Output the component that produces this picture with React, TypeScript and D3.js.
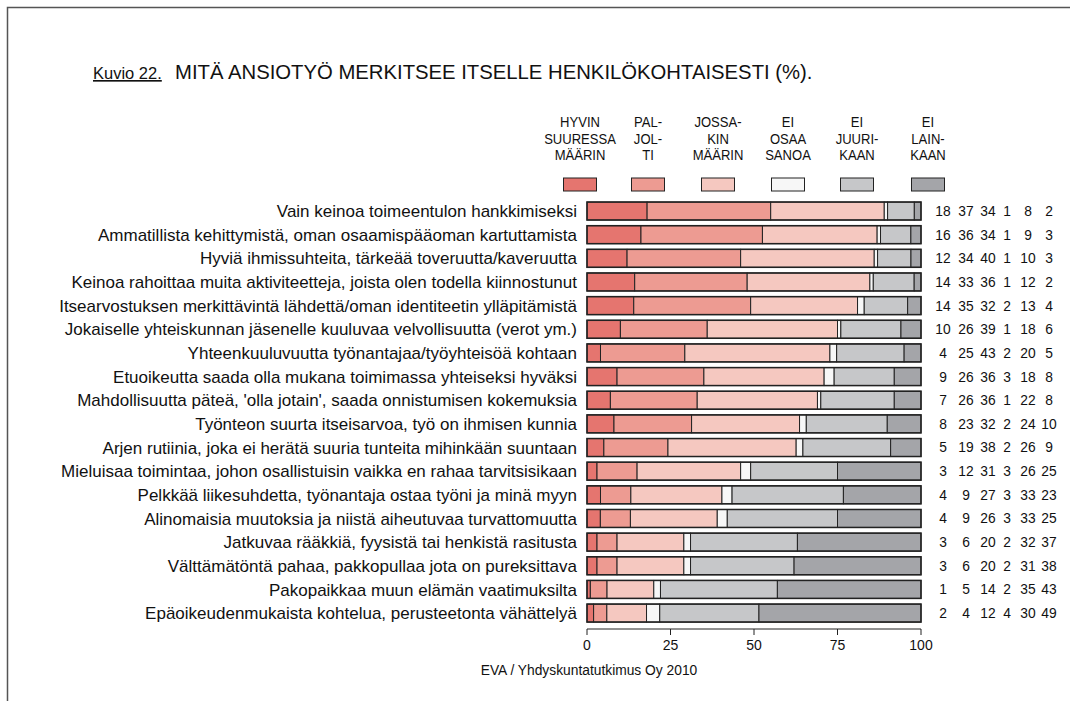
import React from "react";
import * as d3 from "d3";

const categories = [
  "Vain keinoa toimeentulon hankkimiseksi",
  "Ammatillista kehittymistä, oman osaamispääoman kartuttamista",
  "Hyviä ihmissuhteita, tärkeää toveruutta/kaveruutta",
  "Keinoa rahoittaa muita aktiviteetteja, joista olen todella kiinnostunut",
  "Itsearvostuksen merkittävintä lähdettä/oman identiteetin ylläpitämistä",
  "Jokaiselle yhteiskunnan jäsenelle kuuluvaa velvollisuutta (verot ym.)",
  "Yhteenkuuluvuutta työnantajaa/työyhteisöä kohtaan",
  "Etuoikeutta saada olla mukana toimimassa yhteiseksi hyväksi",
  "Mahdollisuutta päteä, 'olla jotain', saada onnistumisen kokemuksia",
  "Työnteon suurta itseisarvoa, työ on ihmisen kunnia",
  "Arjen rutiinia, joka ei herätä suuria tunteita mihinkään suuntaan",
  "Mieluisaa toimintaa, johon osallistuisin vaikka en rahaa tarvitsisikaan",
  "Pelkkää liikesuhdetta, työnantaja ostaa työni ja minä myyn",
  "Alinomaisia muutoksia ja niistä aiheutuvaa turvattomuutta",
  "Jatkuvaa rääkkiä, fyysistä tai henkistä rasitusta",
  "Välttämätöntä pahaa, pakkopullaa jota on pureksittava",
  "Pakopaikkaa muun elämän vaatimuksilta",
  "Epäoikeudenmukaista kohtelua, perusteetonta vähättelyä",
];

const hyvinSuuressa = [18, 16, 12, 14, 14, 10, 4, 9, 7, 8, 5, 3, 4, 4, 3, 3, 1, 2];
const paljolti = [37, 36, 34, 33, 35, 26, 25, 26, 26, 23, 19, 12, 9, 9, 6, 6, 5, 4];
const jossakin = [34, 34, 40, 36, 32, 39, 43, 36, 36, 32, 38, 31, 27, 26, 20, 20, 14, 12];
const eiOsaa = [1, 1, 1, 1, 2, 1, 2, 3, 1, 2, 2, 3, 3, 3, 2, 2, 2, 4];
const eiJuuri = [8, 9, 10, 12, 13, 18, 20, 18, 22, 24, 26, 26, 33, 33, 32, 31, 35, 30];
const eiLainkaan = [2, 3, 3, 2, 4, 6, 5, 8, 8, 10, 9, 25, 23, 25, 37, 38, 43, 49];

const series = [hyvinSuuressa, paljolti, jossakin, eiOsaa, eiJuuri, eiLainkaan];
const legendLabels = [
  ["HYVIN", "SUURESSA", "MÄÄRIN"],
  ["PAL-", "JOL-", "TI"],
  ["JOSSA-", "KIN", "MÄÄRIN"],
  ["EI", "OSAA", "SANOA"],
  ["EI", "JUURI-", "KAAN"],
  ["EI", "LAIN-", "KAAN"],
];
const colors = ["#e5756f", "#ed9b92", "#f5c8c0", "#f7f7f7", "#c6c7c9", "#a4a5a9"];
const ticks = [0, 25, 50, 75, 100];

const FONT = "'Liberation Sans', Arial, Helvetica, sans-serif";

export default function App() {
  const x = d3.scaleLinear().domain([0, 100]).range([587, 921]);
  const y = d3
    .scaleBand<string>()
    .domain(categories)
    .range([199.2, 624.9])
    .paddingInner(0.24)
    .paddingOuter(0.12);
  const bh = y.bandwidth();

  const legendX = [580, 648, 718, 788, 857, 928];
  const valueX = [943, 966, 988, 1007, 1028, 1049];

  return (
    <svg
      width={1070}
      height={701}
      style={{ position: "absolute", left: 0, top: 0, background: "#fff" }}
      fontFamily={FONT}
    >
      <rect x={0} y={0} width={1070} height={701} fill="#fff" />
      {/* frame */}
      <path d="M7.5,701 V7.5 H1070" fill="none" stroke="#555" strokeWidth={1.5} />

      {/* title */}
      <text x={93} y={79} fontSize={16.5} fill="#111" textDecoration="underline">
        Kuvio 22.
      </text>
      <text x={175} y={79} fontSize={20.3} fill="#111">
        MITÄ ANSIOTYÖ MERKITSEE ITSELLE HENKILÖKOHTAISESTI (%).
      </text>

      {/* legend */}
      {legendLabels.map((lines, i) => (
        <g key={i}>
          {lines.map((t, j) => (
            <text
              key={j}
              transform={`translate(${legendX[i]},${127 + j * 16.5}) scale(0.9,1)`}
              fontSize={14.5}
              textAnchor="middle"
              fill="#111"
            >
              {t}
            </text>
          ))}
          <rect
            x={legendX[i] - 16.5}
            y={178}
            width={33}
            height={13}
            fill={colors[i]}
            stroke="#222"
            strokeWidth={1}
          />
        </g>
      ))}

      {/* bars */}
      {categories.map((c, r) => {
        const vals = series.map((s) => s[r]);
        const total = d3.sum(vals);
        let cum = 0;
        const yy = y(c)!;
        return (
          <g key={c}>
            <text
              x={577}
              y={yy + bh / 2}
              dy="0.36em"
              fontSize={17}
              textAnchor="end"
              fill="#111"
            >
              {c}
            </text>
            {vals.map((v, k) => {
              const x0 = x((cum / total) * 100);
              cum += v;
              const x1 = x((cum / total) * 100);
              return (
                <rect
                  key={k}
                  x={x0}
                  y={yy}
                  width={Math.max(0, x1 - x0)}
                  height={bh}
                  fill={colors[k]}
                  stroke="#222"
                  strokeWidth={1}
                />
              );
            })}
            <rect
              x={x(0)}
              y={yy}
              width={x(100) - x(0)}
              height={bh}
              fill="none"
              stroke="#222"
              strokeWidth={1.5}
            />
            {vals.map((v, k) => (
              <text
                key={k}
                x={valueX[k]}
                y={yy + bh / 2}
                dy="0.36em"
                fontSize={13.8}
                textAnchor="middle"
                fill="#111"
              >
                {v}
              </text>
            ))}
          </g>
        );
      })}

      {/* axis */}
      <line x1={x(0)} x2={x(100)} y1={629} y2={629} stroke="#222" strokeWidth={1} />
      {ticks.map((t) => (
        <g key={t}>
          <line x1={x(t)} x2={x(t)} y1={629} y2={635} stroke="#222" strokeWidth={1} />
          <text x={x(t)} y={650} fontSize={14} textAnchor="middle" fill="#111">
            {t}
          </text>
        </g>
      ))}

      {/* footer */}
      <text x={589} y={675} fontSize={13.8} textAnchor="middle" fill="#111">
        EVA / Yhdyskuntatutkimus Oy 2010
      </text>
    </svg>
  );
}
